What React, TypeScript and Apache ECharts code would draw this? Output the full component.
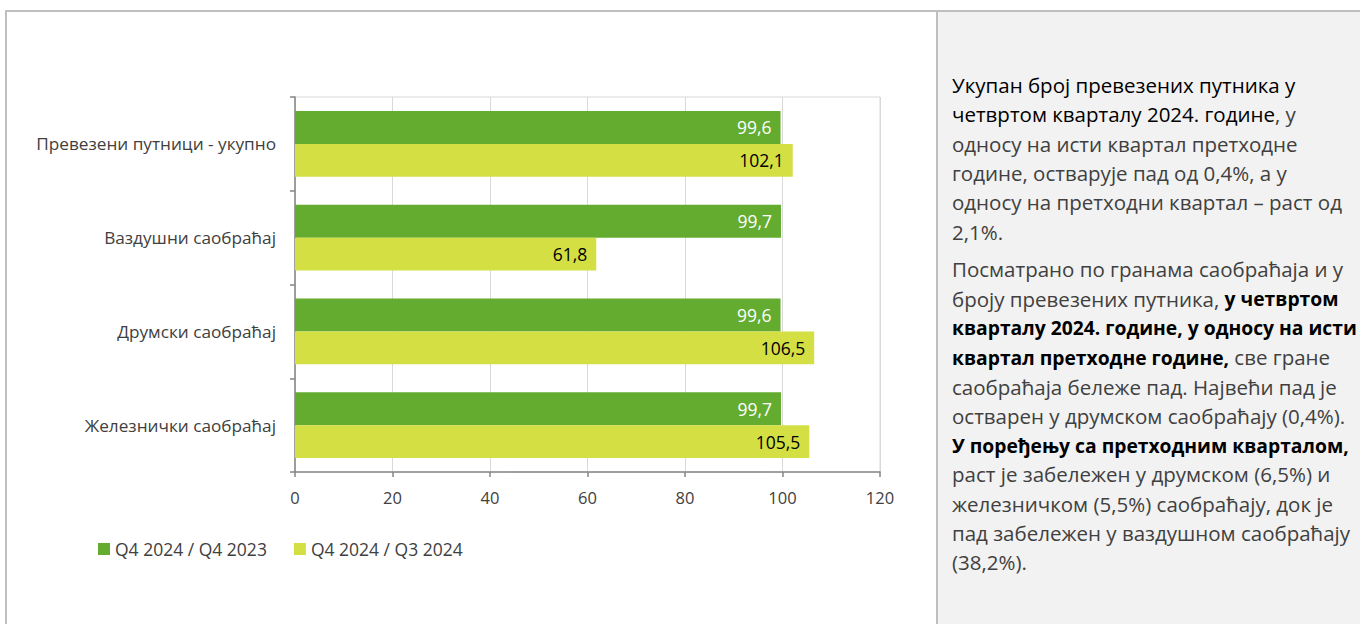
import React, { useEffect, useRef } from "react";
import * as echarts from "echarts";

const categories = [
  "Превезени путници - укупно",
  "Ваздушни саобраћај",
  "Друмски саобраћај",
  "Железнички саобраћај",
];
const seriesNames = ["Q4 2024 / Q4 2023", "Q4 2024 / Q3 2024"];
const valuesYoY = [99.6, 99.7, 99.6, 99.7];
const valuesQoQ = [102.1, 61.8, 106.5, 105.5];
const xTicks = { min: 0, max: 120, interval: 20 };

// Right-hand commentary: each line is a list of [text, style] segments
// style: "h" = highlighted (black), "b" = bold black, "n" = normal gray
const panelLines: Array<Array<[string, string]>> = [
  [["Укупан број превезених путника у", "h"]],
  [["четвртом кварталу 2024. године", "h"], [", у", "n"]],
  [["односу на исти квартал претходне", "n"]],
  [["године, остварује пад од 0,4%, а у", "n"]],
  [["односу на претходни квартал – раст од", "n"]],
  [["2,1%.", "n"]],
  [["Посматрано по гранама саобраћаја и у", "n"]],
  [["броју превезених путника, ", "n"], ["у четвртом", "b"]],
  [["кварталу 2024. године, у односу на исти", "b"]],
  [["квартал претходне године,", "b"], [" све гране", "n"]],
  [["саобраћаја бележе пад. Највећи пад је", "n"]],
  [["остварен у друмском саобраћају (0,4%).", "n"]],
  [["У поређењу са претходним кварталом,", "b"]],
  [["раст је забележен у друмском (6,5%) и", "n"]],
  [["железничком (5,5%) саобраћају, док је", "n"]],
  [["пад забележен у ваздушном саобраћају", "n"]],
  [["(38,2%).", "n"]],
];

const FONT = "'Open Sans', 'Noto Sans', sans-serif";
const fmt = (v: number) => v.toFixed(1).replace(".", ",");

export default function App() {
  const ref = useRef<HTMLDivElement>(null);
  useEffect(() => {
    if (!ref.current) return;
    const chart = echarts.init(ref.current, null, { renderer: "svg" });

    const panelX = 952;
    const lineH = 29.3;
    const textGraphics: any[] = [];
    let y = 85;
    panelLines.forEach((segs, i) => {
      if (i === 6) y += 8.5;
      const text = segs
        .map(([t, s]) => `{${s}|${t.replace(/([{}|])/g, "")}}`)
        .join("");
      textGraphics.push({
        type: "text",
        x: panelX,
        y: y,
        z: 10,
        style: {
          text,
          verticalAlign: "middle",
          align: "left",
          font: `20.5px ${FONT}`,
          rich: {
            h: { fontSize: 20.5, fontFamily: FONT, fill: "#000000", fontWeight: "normal" },
            b: { fontSize: 19.3, fontFamily: FONT, fill: "#000000", fontWeight: "bold" },
            n: { fontSize: 20.5, fontFamily: FONT, fill: "#404040", fontWeight: "normal" },
          },
        },
      });
      y += lineH;
    });

    chart.setOption({
      animation: false,
      backgroundColor: "#ffffff",
      textStyle: { fontFamily: FONT },
      grid: {
        left: 295,
        right: 480,
        top: 97,
        bottom: 152,
        show: true,
        borderColor: "#d9d9d9",
        borderWidth: 1,
        backgroundColor: "transparent",
      },
      legend: {
        left: 98,
        top: 540,
        padding: 0,
        itemWidth: 12,
        itemHeight: 12,
        itemGap: 27,
        icon: "rect",
        textStyle: { color: "#404040", fontSize: 17.5, fontFamily: FONT },
        data: seriesNames,
      },
      xAxis: {
        type: "value",
        min: xTicks.min,
        max: xTicks.max,
        interval: xTicks.interval,
        axisLine: { show: true, lineStyle: { color: "#868686", width: 1.5 } },
        axisTick: { show: true, length: 5, lineStyle: { color: "#868686", width: 1.5 } },
        splitLine: { show: true, lineStyle: { color: "#d9d9d9", width: 1 } },
        axisLabel: { color: "#404040", fontSize: 16.5, margin: 17, fontFamily: FONT },
      },
      yAxis: {
        type: "category",
        inverse: true,
        data: categories,
        axisLine: { show: true, lineStyle: { color: "#868686", width: 1.5 } },
        axisTick: { show: true, length: 5, lineStyle: { color: "#868686", width: 1.5 } },
        splitLine: { show: false },
        axisLabel: { color: "#404040", fontSize: 17.2, margin: 19, fontFamily: FONT },
      },
      series: [
        {
          name: seriesNames[0],
          type: "bar",
          data: valuesYoY,
          barGap: "0%",
          barCategoryGap: "30%",
          itemStyle: { color: "#63ac2f" },
          label: {
            show: true,
            position: "insideRight",
            distance: 9,
            color: "#ffffff",
            fontSize: 17.5,
            fontFamily: FONT,
            formatter: (p: any) => fmt(p.value),
          },
        },
        {
          name: seriesNames[1],
          type: "bar",
          data: valuesQoQ,
          barGap: "0%",
          barCategoryGap: "30%",
          itemStyle: { color: "#d4df44" },
          label: {
            show: true,
            position: "insideRight",
            distance: 9,
            color: "#000000",
            fontSize: 17.5,
            fontFamily: FONT,
            formatter: (p: any) => fmt(p.value),
          },
        },
      ],
      graphic: [
        {
          type: "rect",
          z: -10,
          silent: true,
          shape: { x: 937, y: 11, width: 440, height: 640 },
          style: { fill: "#f2f2f2", stroke: "#bfbfbf", lineWidth: 2 },
        },
        {
          type: "rect",
          z: -9,
          silent: true,
          shape: { x: 6, y: 11, width: 1370, height: 640 },
          style: { fill: "none", stroke: "#bfbfbf", lineWidth: 2 },
        },
        ...textGraphics,
      ],
    });
    return () => chart.dispose();
  }, []);
  return (
    <div
      ref={ref}
      style={{ position: "fixed", left: 0, top: 0, width: 1360, height: 624 }}
    />
  );
}
